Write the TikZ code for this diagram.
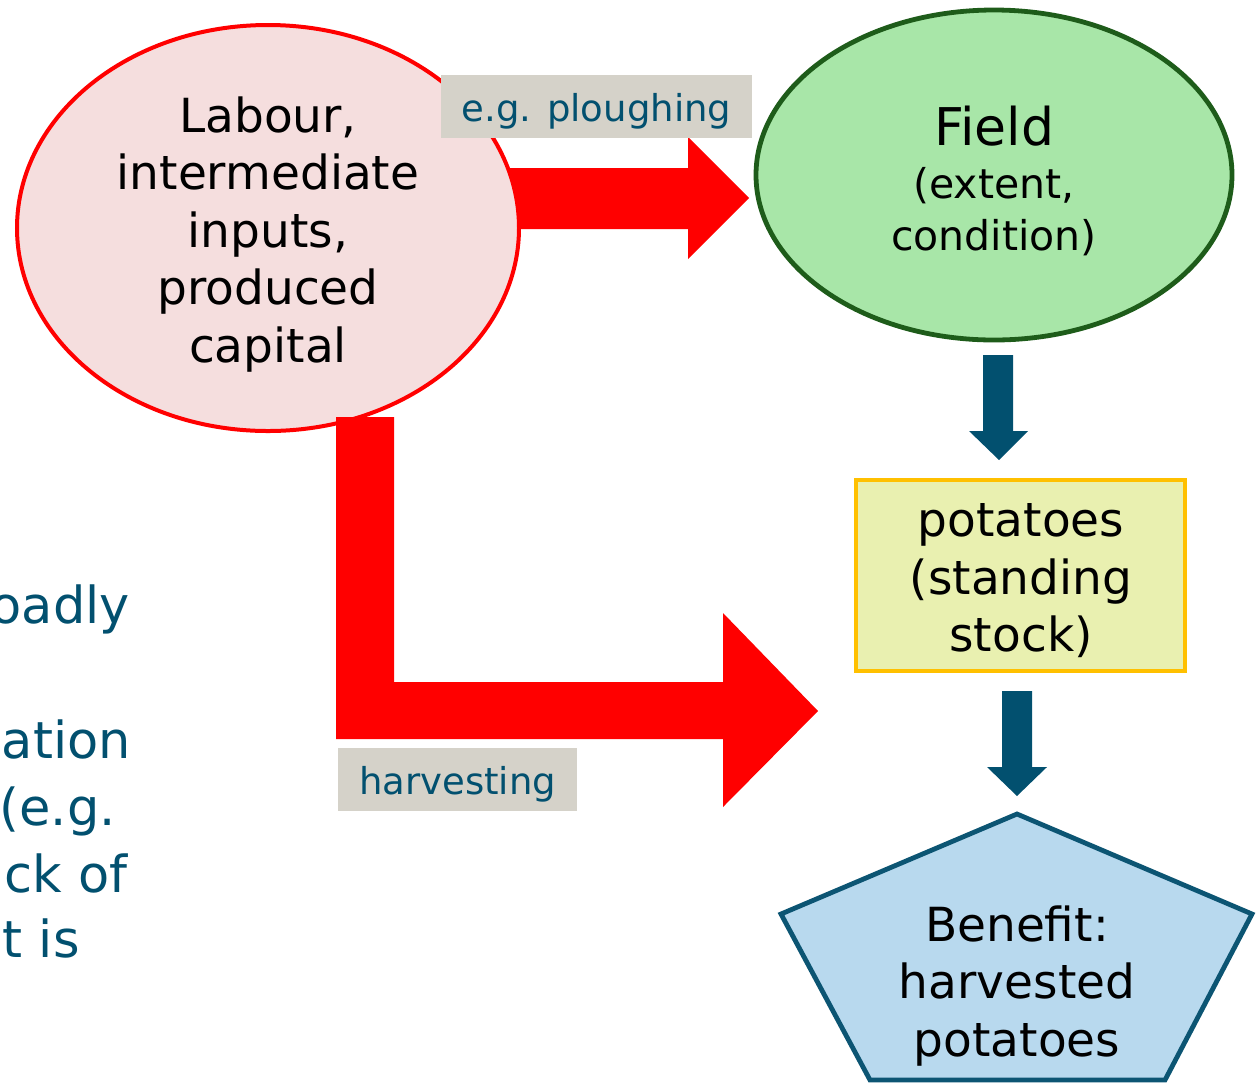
\documentclass[tikz,border=0pt]{standalone}
\usepackage{fontspec}
\setmainfont{DejaVu Sans}
\usetikzlibrary{shapes.geometric}

\definecolor{flowred}{HTML}{FF0000}
\definecolor{inputfill}{HTML}{F5DEDE}
\definecolor{fieldfill}{HTML}{A8E6A8}
\definecolor{fieldline}{HTML}{1E5C1A}
\definecolor{stockfill}{HTML}{E9F0B0}
\definecolor{stockline}{HTML}{FFC000}
\definecolor{benefitfill}{HTML}{B8D9EE}
\definecolor{benefitline}{HTML}{0C5573}
\definecolor{deepteal}{HTML}{02506F}
\definecolor{tagfill}{HTML}{D5D2C9}

\tikzset{
  body/.style={font=\fontsize{35.25}{43.1}\selectfont, align=center, inner sep=0pt, text=black},
  tagbox/.style={fill=tagfill, inner sep=0pt, text=deepteal,
    font=\fontsize{27.75}{33}\selectfont, text height=22.5pt, text depth=0pt},
  sidetext/.style={text=deepteal, font=\fontsize{38.25}{49.5}\selectfont, inner sep=0pt, anchor=base east},
}

\begin{document}
\begin{tikzpicture}[x=0.75pt,y=-0.75pt]
\useasboundingbox (0,0) rectangle (1256,1083);
\clip (0,0) rectangle (1256,1083);

% fragments of the running text at the left edge
\node[sidetext] (s1) at (130,623) {oadly};
\node[sidetext] (s2) at (131,758) {ation};
\node[sidetext] (s3) at (116,825) {(e.g.};
\node[sidetext] (s4) at (128,892) {ck of};
\node[sidetext] (s5) at (80,957) {t is};

% flow into the field (drawn below the input ellipse)
\coordinate (p0) at (480,198);
\fill[flowred] (p0) ++(0,-30) -- (688,168) -- (688,137) -- (749,198) -- (688,259) -- (688,229) -- ++(-208,0) -- cycle;

% input ellipse
\node[ellipse, draw=flowred, fill=inputfill, line width=3pt, inner sep=0pt,
      minimum width=376.5pt, minimum height=304.5pt] (inputs) at (268,228) {};
\node[body] (inputstext) at (inputs.center) [yshift=-4.8pt]
  {Labour,\\intermediate\\inputs,\\produced\\capital};

% field ellipse
\node[ellipse, draw=fieldline, fill=fieldfill, line width=3.6pt, inner sep=0pt,
      minimum width=357pt, minimum height=247.5pt] (field) at (994,175) {};
\node[inner sep=0pt, anchor=base, font=\fontsize{39}{46}\selectfont] (fieldname) at (994,145) {Field};
\node[inner sep=0pt, align=center, font=\fontsize{30.75}{38.5}\selectfont] (fieldsub) at (994,211.5)
  {(extent,\\condition)};

% harvesting flow (drawn over the input ellipse)
\coordinate (h0) at (365,417);
\fill[flowred] (h0) ++(-29,0) -- ++(58,0) -- (394,682) -- (723,682) -- (723,613) -- (818,711)
  -- (723,807) -- (723,739) -- (336,739) -- cycle;

% flow labels
\node[tagbox, minimum width=233.25pt, minimum height=47.25pt] (ploughing) at (596.5,106.5) {e.g. ploughing};
\node[tagbox, minimum width=179.25pt, minimum height=47.25pt] (harvesting) at (457.5,779.5) {harvesting};

% standing stock
\node[draw=stockline, fill=stockfill, line width=3.6pt, inner sep=0pt,
      minimum width=246.75pt, minimum height=143.25pt] (stock) at (1020.5,575.5) {};
\node[body] (stocktext) at (1021,581) {potatoes\\(standing\\stock)};

% field -> stock, stock -> benefit
\coordinate (d1) at (998,355);
\fill[deepteal] (d1) ++(-15,0) -- ++(30,0) -- ++(0,76) -- ++(15,0) -- ++(-29,29) -- ++(-30,-29) -- ++(14,0) -- cycle;
\coordinate (d2) at (1017,691);
\fill[deepteal] (d2) ++(-15,0) -- ++(30,0) -- ++(0,76) -- ++(15,0) -- ++(-30,29) -- ++(-30,-29) -- ++(15,0) -- cycle;

% benefit pentagon
\coordinate (b1) at (1017,814);
\coordinate (b2) at (1252,914);
\coordinate (b3) at (1165,1080);
\coordinate (b4) at (870,1080);
\coordinate (b5) at (781,914);
\draw[fill=benefitfill, draw=benefitline, line width=3.6pt, line join=miter]
  (b1) -- (b2) -- (b3) -- (b4) -- (b5) -- cycle;
\node[body] (benefittext) at (1017,986) {Benefit:\\harvested\\potatoes};
\end{tikzpicture}
\end{document}
